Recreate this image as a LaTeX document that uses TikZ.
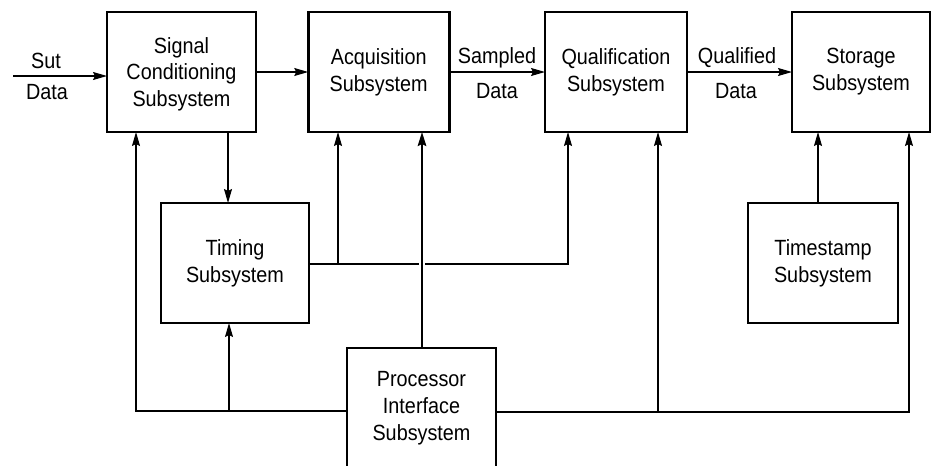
\documentclass[tikz,border=0pt]{standalone}
\usepackage{fontspec}
\setmainfont{Liberation Sans}[FakeStretch=0.9]
\usetikzlibrary{arrows.meta}
\begin{document}
\begin{tikzpicture}[x=1pt,y=-1pt,
  txt/.style={font=\fontsize{22}{26.8}\selectfont},
  blk/.style={draw,line width=2.6pt,minimum height=120pt,inner sep=0pt,outer sep=0pt,align=center,txt},
  lbl/.style={txt,anchor=base,inner sep=0pt},
  conn/.style={line width=1.2pt},
  arr/.style={conn,-{Stealth[length=14pt,width=8pt,inset=2pt]}},
  bus/.style={line width=2.3pt,-{Stealth[length=14pt,width=8.5pt,inset=2pt]}}]
\useasboundingbox (0,0) rectangle (932,466);
\begin{scope}
\clip (0,0) rectangle (932,466);
% blocks
\node[blk,minimum width=149pt,text depth=0pt] (sc) at (181.5,72) {Signal\\Conditioning\\Subsystem};
\node[blk,minimum width=141pt] (acq) at (378.7,72) {Acquisition\\Subsystem};
\node[blk,minimum width=142pt] (qual) at (616,72) {Qualification\\Subsystem};
\node[blk,minimum width=138pt] (sto) at (861,72) {Storage\\Subsystem};
\node[blk,minimum width=148pt] (tim) at (235,263) {Timing\\Subsystem};
\node[blk,minimum width=150pt] (ts) at (823,263) {Timestamp\\Subsystem};
\node[blk,minimum width=149pt] (proc) at (421.5,408) {Processor\\Interface\\Subsystem};
\end{scope}
% labels
\node[lbl] (sut) at (46,68) {Sut};
\node[lbl] (sutd) at (47,99) {Data};
\node[lbl] (samp) at (497,63) {Sampled};
\node[lbl] (sampd) at (497,98) {Data};
\node[lbl] (qf) at (737,63) {Qualified};
\node[lbl] (qfd) at (736,98) {Data};
% helper coordinates
\coordinate (sutin) at (13,76);
\coordinate (gapL) at (419,264);
\coordinate (gapR) at (425,264);
% data path
\draw[arr] (sutin) -- (sc.west |- sutin);
\draw[arr] (sc.east) -- (acq.west);
\draw[arr] (acq.east) -- (qual.west);
\draw[arr] (qual.east) -- (sto.west);
% signal conditioning to timing
\draw[arr] (sc.south -| 228,0) -- (tim.north -| 228,0);
% processor left bus
\draw[arr] (proc.west |- 0,411) -| (sc.south -| 136,0);
\draw[arr] (229,411) -- (tim.south -| 229,0);
% processor right bus
\draw[arr] (proc.east |- 0,412) -| (sto.south -| 909,0);
\draw[arr] (658,412) -- (qual.south -| 658,0);
% processor to acquisition
\draw[bus] (proc.north -| 422,0) -- (acq.south -| 422,0);
% timing outputs
\draw[conn] (tim.east |- gapL) -- (gapL);
\draw[arr] (gapR) -| (qual.south -| 568,0);
\draw[arr] (338,264) -- (acq.south -| 338,0);
% timestamp
\draw[arr] (ts.north -| 818,0) -- (sto.south -| 818,0);
\end{tikzpicture}
\end{document}
